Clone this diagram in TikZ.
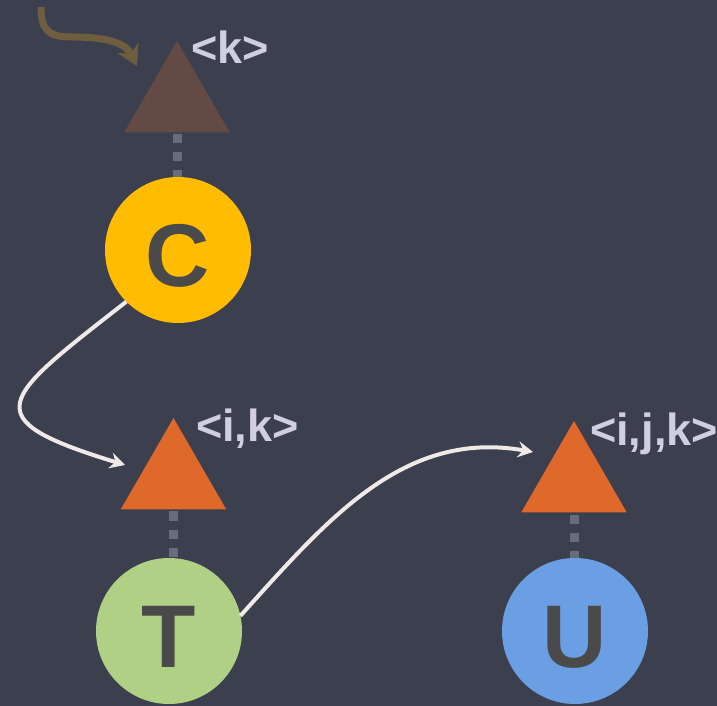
\documentclass[tikz,border=0pt]{standalone}
\usepackage{fontspec}
\setmainfont{Liberation Sans}
\usetikzlibrary{arrows.meta,shapes.geometric}
\definecolor{bg}{HTML}{3B3F4E}
\definecolor{letterc}{HTML}{4A4A4A}
\definecolor{tagc}{HTML}{D0CEE0}
\definecolor{linkc}{HTML}{696D7B}
\definecolor{flowc}{HTML}{EFEAE8}
\definecolor{feedc}{HTML}{6E5E3F}
\definecolor{cyel}{HTML}{FFBC00}
\definecolor{tgrn}{HTML}{B0D185}
\definecolor{ublu}{HTML}{6B9FE4}
\definecolor{tribrown}{HTML}{634A45}
\definecolor{triorange}{HTML}{DF692B}
\begin{document}
\begin{tikzpicture}[x=1pt,y=1pt,
  vertex/.style={circle,minimum size=146pt,inner sep=0pt,outer sep=0pt,text=letterc,
    text height=73pt,text depth=0pt,
    font=\fontsize{89}{89}\selectfont\bfseries},
  tri/.style={regular polygon,regular polygon sides=3,minimum size=122pt,inner sep=0pt,outer sep=0pt},
  tag/.style={anchor=base west,inner sep=0pt,text=tagc,font=\fontsize{45}{45}\selectfont\bfseries},
  link/.style={draw=linkc,line width=9pt,dash pattern=on 9pt off 9pt,shorten <=2pt},
  flow/.style={draw=flowc,line width=4pt,-{Stealth[length=15pt,width=16pt,inset=5pt]}},
  feed/.style={draw=feedc,line width=7pt,-{Stealth[length=20pt,width=23pt,inset=6pt]}},
]
\fill[bg] (0,0) rectangle (717,706);
\useasboundingbox (0,0) rectangle (717,706);

% index triangles
\node[tri,fill=tribrown] (tk) at (177,604) {};
\node[tri,fill=triorange] (tik) at (173.5,227) {};
\node[tri,fill=triorange] (tijk) at (574,224) {};

% tensors
\node[vertex,fill=cyel] (c) at (178,456) {C};
\node[vertex,fill=tgrn] (t) at (169,75) {T};
\node[vertex,fill=ublu] (u) at (575,75) {U};

% index labels
\node[tag] (lk) at (191,642) {<k>};
\node[tag] (lik) at (196,264) {<i,k>};
\node[tag] (lijk) at (590,260) {<i,j,k>};

% dotted links between tensors and their indices (kept vertical)
\draw[link] (tk.south) -- (tk.south |- c.north);
\draw[link] (tik.south) -- (tik.south |- t.north);
\draw[link] (tijk.south) -- (tijk.south |- u.north);

% free ends of the arrows
\coordinate (feedstart) at (41,699);
\coordinate (feedtip) at (137,640);
\coordinate (ikin) at (125,241);
\coordinate (ijkin) at (533,254);

% incoming feed
\draw[feed] (feedstart) .. controls (41,676) and (48,669) .. (72,669)
  .. controls (110,669) and (126,662) .. (feedtip);

% flows
\draw[flow] (c.225) to[out=218,in=163,looseness=2.5] (ikin);
\draw[flow] (t.12) to[out=48,in=170] (ijkin);
\end{tikzpicture}
\end{document}
